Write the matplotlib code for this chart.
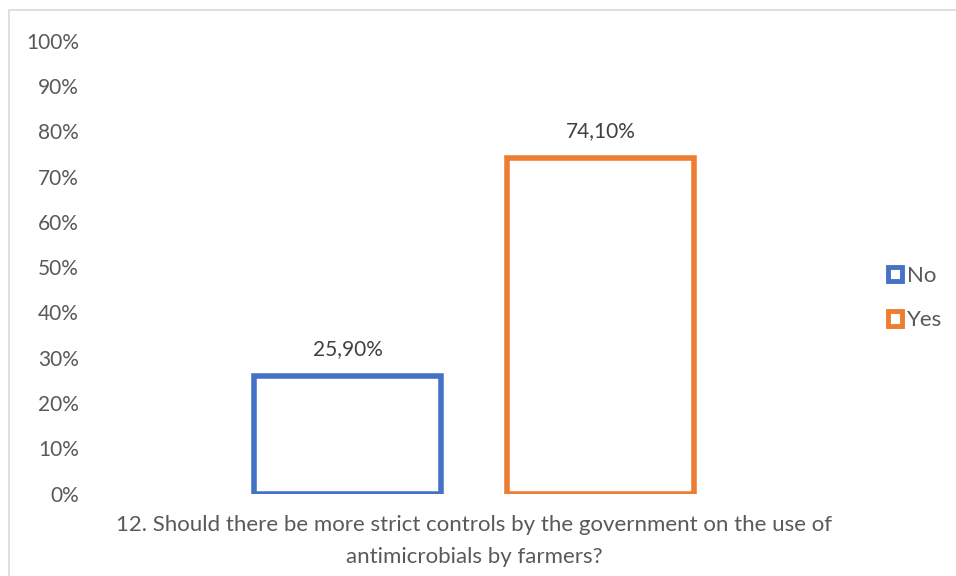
import numpy as np
import matplotlib.pyplot as plt
from matplotlib.patches import Patch, Rectangle

# data
series = ["No", "Yes"]
values = [25.9, 74.1]
labels = ["25,90%", "74,10%"]
colors = ["#4472C4", "#ED7D31"]
yticks = [0, 10, 20, 30, 40, 50, 60, 70, 80, 90, 100]
xlabel = "12. Should there be more strict controls by the government on the use of\nantimicrobials by farmers?"

plt.rcParams['font.family'] = ['Lato', 'DejaVu Sans']

fig = plt.figure(figsize=(9.56, 5.76), dpi=100)
L, R = 90, 858
ax = fig.add_axes([L / 956, 82.3 / 576, (R - L) / 956, (535.3 - 82.3) / 576])

x = np.arange(len(series))
bars = ax.bar(x, values, width=0.74, facecolor="white", edgecolor=colors, linewidth=4.0)
for xi, v, lab in zip(x, values, labels):
    ax.text(xi, v + 3.8, lab, ha="center", va="bottom", fontsize=15, color="#404040")

ax.set_xlim(-1.02, 2.019)
ax.set_ylim(0, 100)
ax.set_yticks(yticks)
ax.set_yticklabels([f"{t}%" for t in yticks], fontsize=15, color="#595959")
ax.tick_params(axis="y", length=0, pad=8)
ax.set_xticks([])
for s in ax.spines.values():
    s.set_visible(False)

fig.text(474 / 956, 1 - 541 / 576, xlabel, ha="center", va="center", fontsize=16,
         color="#595959", linespacing=1.75)

handles = [Patch(facecolor="white", edgecolor=c, linewidth=3.5) for c in colors]
fig.legend(handles, series, loc="center left", bbox_to_anchor=(868 / 956, 1 - 298 / 576),
           frameon=False, fontsize=16, labelcolor="#595959", handlelength=0.62,
           handleheight=0.62, handletextpad=0.25, labelspacing=1.12)

# chart border
fig.patches.append(Rectangle((8.5 / 956, -0.1), 1.2, 1.1 - 9.5 / 576,
                             transform=fig.transFigure, fill=False,
                             edgecolor="#D9D9D9", linewidth=1.2))

fig.savefig("out.png", dpi=100)
